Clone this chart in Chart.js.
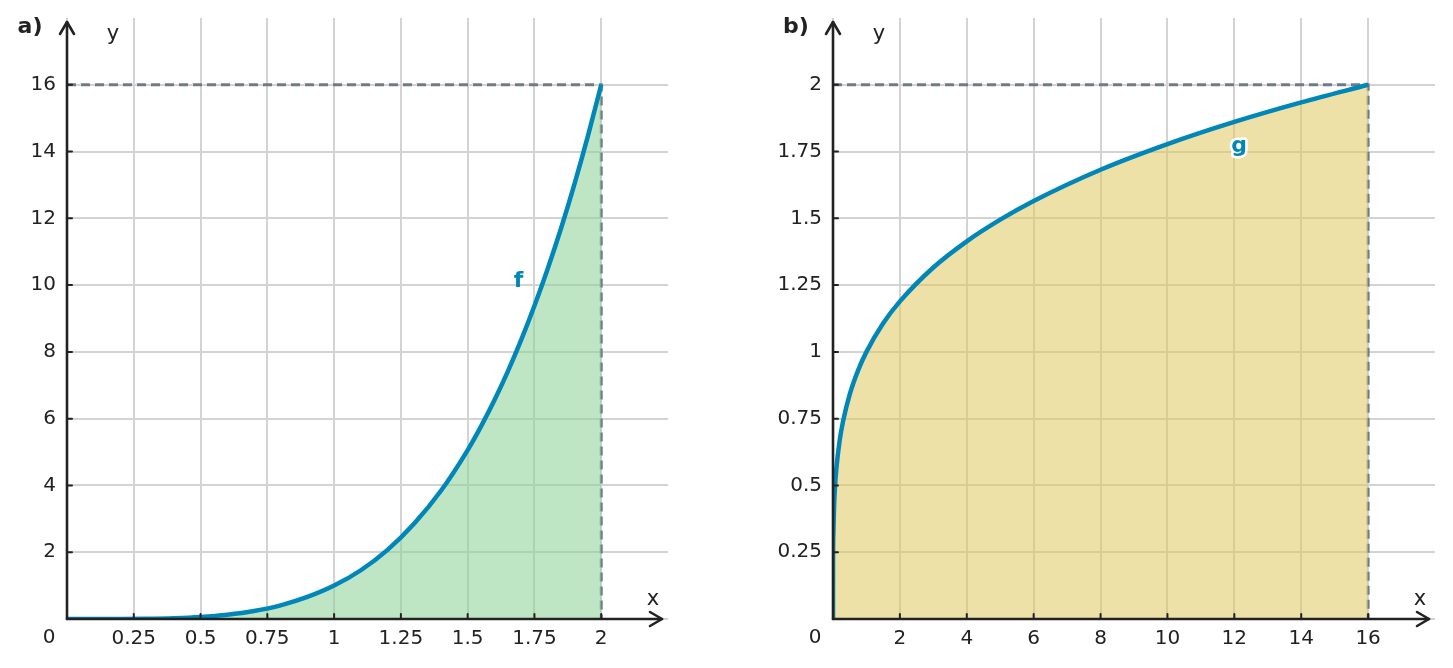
<!DOCTYPE html>
<html>
<head>
<meta charset="utf-8">
<script src="https://cdn.jsdelivr.net/npm/chart.js@4.4.1/dist/chart.umd.min.js"></script>
<style>
body { margin: 0; background: #fff; }
canvas { position: absolute; top: 0; }
#chart-a { left: 0; }
#chart-b { left: 726px; }
</style>
</head>
<body>
<canvas id="chart-a" width="726" height="668"></canvas>
<canvas id="chart-b" width="727" height="668"></canvas>
<script>
// panel a) : f
var fX = [0, 0.1, 0.2, 0.3, 0.4, 0.5, 0.6, 0.7, 0.8, 0.9, 1, 1.1, 1.2, 1.3, 1.4, 1.5, 1.55, 1.6, 1.65, 1.7, 1.75, 1.8, 1.85, 1.9, 1.95, 2];
var fY = [0, 0.0001, 0.0016, 0.0081, 0.0256, 0.0625, 0.13, 0.24, 0.41, 0.66, 1, 1.46, 2.07, 2.86, 3.84, 5.06, 5.77, 6.55, 7.41, 8.35, 9.38, 10.5, 11.71, 13.03, 14.46, 16];
var aXTicks = [0, 0.25, 0.5, 0.75, 1, 1.25, 1.5, 1.75, 2];
var aYTicks = [0, 2, 4, 6, 8, 10, 12, 14, 16];

// panel b) : g
var gX = [0, 0.001, 0.01, 0.03, 0.06, 0.1, 0.2, 0.3, 0.5, 0.75, 1, 1.5, 2, 3, 4, 5, 6, 8, 10, 12, 14, 16];
var gY = [0, 0.178, 0.316, 0.416, 0.495, 0.562, 0.669, 0.74, 0.841, 0.931, 1, 1.107, 1.189, 1.316, 1.414, 1.495, 1.565, 1.682, 1.778, 1.861, 1.934, 2];
var bXTicks = [0, 2, 4, 6, 8, 10, 12, 14, 16];
var bYTicks = [0, 0.25, 0.5, 0.75, 1, 1.25, 1.5, 1.75, 2];

var FONT = '"DejaVu Sans", sans-serif';
var INK = '#222222';
var BLUE = '#0086b9';
var DASH = '#6f7c86';

function toPoints(xs, ys) {
	return xs.map(function(x, i) { return {x: x, y: ys[i]}; });
}

function axesPlugin(cfg) {
	return {
		id: 'axesArrows',
		afterDraw: function(chart) {
			var ctx = chart.ctx;
			var a = chart.chartArea;
			var xs = chart.scales.x;
			var ys = chart.scales.y;
			var ox = a.left, oy = a.bottom;
			var xTip = a.right - 6, yTip = a.top + 4;
			ctx.save();
			ctx.strokeStyle = INK;
			ctx.lineCap = 'round';
			ctx.lineJoin = 'round';
			// tick marks
			ctx.lineWidth = 2;
			cfg.xTicks.forEach(function(v) {
				if (v === 0) return;
				var px = xs.getPixelForValue(v);
				ctx.beginPath(); ctx.moveTo(px, oy); ctx.lineTo(px, oy - 5); ctx.stroke();
			});
			cfg.yTicks.forEach(function(v) {
				if (v === 0) return;
				var py = ys.getPixelForValue(v);
				ctx.beginPath(); ctx.moveTo(ox, py); ctx.lineTo(ox + 5, py); ctx.stroke();
			});
			// axes
			ctx.lineWidth = 2.6;
			ctx.beginPath(); ctx.moveTo(ox, oy); ctx.lineTo(xTip, oy); ctx.stroke();
			ctx.beginPath(); ctx.moveTo(xTip - 12, oy - 7); ctx.lineTo(xTip, oy); ctx.lineTo(xTip - 12, oy + 7); ctx.stroke();
			ctx.beginPath(); ctx.moveTo(ox, oy); ctx.lineTo(ox, yTip); ctx.stroke();
			ctx.beginPath(); ctx.moveTo(ox - 7, yTip + 12); ctx.lineTo(ox, yTip); ctx.lineTo(ox + 7, yTip + 12); ctx.stroke();
			// texts
			ctx.fillStyle = INK;
			ctx.textAlign = 'center';
			ctx.textBaseline = 'middle';
			ctx.font = '20px ' + FONT;
			ctx.fillText('0', ox - 18, oy + 19);
			ctx.font = '21px ' + FONT;
			ctx.fillText('y', ox + 46, a.top + 17);
			ctx.fillText('x', a.right - 15, oy - 19);
			ctx.font = 'bold 22px ' + FONT;
			ctx.fillText(cfg.tag, ox - 37, a.top + 9);
			// curve label
			var lx = xs.getPixelForValue(cfg.label[1]);
			var ly = ys.getPixelForValue(cfg.label[2]);
			ctx.font = 'bold 22px ' + FONT;
			if (cfg.label[3]) {
				ctx.strokeStyle = '#ffffff';
				ctx.lineWidth = 5;
				ctx.strokeText(cfg.label[0], lx, ly);
			}
			ctx.fillStyle = BLUE;
			ctx.fillText(cfg.label[0], lx, ly);
			ctx.restore();
		}
	};
}

function makeChart(id, cfg) {
	var ctx = document.getElementById(id).getContext('2d');
	var lastX = cfg.xs[cfg.xs.length - 1];
	var lastY = cfg.ys[cfg.ys.length - 1];
	return new Chart(ctx, {
		type: 'scatter',
		data: {
			datasets: [{
				data: toPoints(cfg.xs, cfg.ys),
				showLine: true,
				borderColor: BLUE,
				borderWidth: 4.5,
				backgroundColor: cfg.fill,
				fill: 'origin',
				pointRadius: 0,
				cubicInterpolationMode: 'monotone'
			}, {
				data: [{x: 0, y: lastY}, {x: lastX, y: lastY}, {x: lastX, y: 0}],
				showLine: true,
				borderColor: DASH,
				borderWidth: 3,
				borderDash: [9, 5],
				fill: false,
				pointRadius: 0
			}]
		},
		options: {
			responsive: false,
			animation: false,
			layout: { padding: { top: 18, right: cfg.padRight, left: 0, bottom: 0 } },
			plugins: { legend: { display: false }, tooltip: { enabled: false } },
			scales: {
				x: {
					type: 'linear', min: 0, max: cfg.xMax,
					afterBuildTicks: function(s) { s.ticks = cfg.xTicks.map(function(v) { return {value: v}; }); },
					afterFit: function(s) { s.height = 49; s.paddingLeft = 0; s.paddingRight = 0; },
					grid: { color: '#d3d3d3', lineWidth: 2, drawTicks: false },
					border: { display: false },
					ticks: {
						padding: 8, color: INK, font: { family: FONT, size: 20 }, maxRotation: 0,
						callback: function(v) { return v === 0 ? '' : String(v); }
					}
				},
				y: {
					type: 'linear', min: 0, max: cfg.yMax,
					afterBuildTicks: function(s) { s.ticks = cfg.yTicks.map(function(v) { return {value: v}; }); },
					afterFit: function(s) { s.width = cfg.axisLeft; s.paddingTop = 0; s.paddingBottom = 0; },
					grid: { color: '#d3d3d3', lineWidth: 2, drawTicks: false },
					border: { display: false },
					ticks: {
						padding: 11, color: INK, font: { family: FONT, size: 20 },
						callback: function(v) { return v === 0 ? '' : String(v); }
					}
				}
			}
		},
		plugins: [axesPlugin(cfg)]
	});
}

makeChart('chart-a', {
	xs: fX, ys: fY, xTicks: aXTicks, yTicks: aYTicks,
	xMax: 2.25, yMax: 18, axisLeft: 67, padRight: 58,
	fill: 'rgba(140,210,150,0.56)', tag: 'a)', label: ['f', 1.69, 10.1, false]
});

makeChart('chart-b', {
	xs: gX, ys: gY, xTicks: bXTicks, yTicks: bYTicks,
	xMax: 18, yMax: 2.25, axisLeft: 107, padRight: 18,
	fill: 'rgba(222,200,95,0.55)', tag: 'b)', label: ['g', 12.14, 1.768, true]
});
</script>
</body>
</html>
